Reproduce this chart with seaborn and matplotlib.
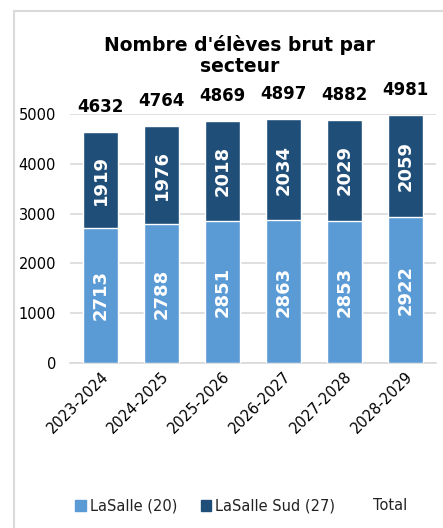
import matplotlib
matplotlib.use("Agg")
import matplotlib.pyplot as plt
from matplotlib.patches import Rectangle, Patch
from matplotlib.lines import Line2D
import pandas as pd
import seaborn as sns

# ─── Data ─────────────────────────────────────────────────────────────────────
years      = ["2023-2024", "2024-2025", "2025-2026", "2026-2027", "2027-2028", "2028-2029"]
lasalle    = [2713, 2788, 2851, 2863, 2853, 2922]
lasalle_sud = [1919, 1976, 2018, 2034, 2029, 2059]
totals     = [4632, 4764, 4869, 4897, 4882, 4981]

LIGHT = "#5B9BD5"
DARK  = "#1F4E79"

sns.set_style("white")
plt.rcParams["font.family"] = ["DejaVu Sans"]
plt.rcParams["text.color"] = "black"

df = pd.DataFrame({"annee": years, "LaSalle": lasalle, "Sud": lasalle_sud, "Total": totals})

fig = plt.figure(figsize=(4.43, 5.28), dpi=100)
ax = fig.add_axes([70 / 443, 1 - 363 / 528, 366 / 443, 249 / 528])

# full height in dark (top segment), bottom segment drawn over it
sns.barplot(data=df, x="annee", y="Total", color=DARK, width=0.57, ax=ax,
            saturation=1, zorder=2)
sns.barplot(data=df, x="annee", y="LaSalle", color=LIGHT, width=0.57, ax=ax,
            saturation=1, zorder=3)

for i, (a, b, t) in enumerate(zip(lasalle, lasalle_sud, totals)):
    ax.text(i, a / 2, str(a), rotation=90, ha="center", va="center",
            color="white", fontsize=13, fontweight="bold", zorder=4)
    ax.text(i, a + b / 2, str(b), rotation=90, ha="center", va="center",
            color="white", fontsize=13, fontweight="bold", zorder=4)
    ax.annotate(str(t), (i, t), xytext=(0, 18), textcoords="offset points",
                ha="center", va="center", fontsize=12, fontweight="bold",
                color="black", annotation_clip=False)

ax.set_ylim(0, 5000)
ax.set_xlim(-0.5, 5.5)
ax.set_yticks(range(0, 5001, 1000))
ax.yaxis.grid(True, color="#D9D9D9", linewidth=1.2, zorder=0)
ax.set_axisbelow(True)
for s in ["top", "right", "left"]:
    ax.spines[s].set_visible(False)
ax.spines["bottom"].set_color("#D9D9D9")
ax.spines["bottom"].set_linewidth(1.2)
ax.set_xlabel("")
ax.set_ylabel("")
ax.tick_params(axis="y", labelsize=10.5, length=0, pad=10, colors="black")
ax.tick_params(axis="x", labelsize=10.5, length=0, pad=4, colors="black")
plt.setp(ax.get_xticklabels(), rotation=45, ha="right", rotation_mode="anchor")

fig.text(0.54, 1 - 45 / 528, "Nombre d'élèves brut par", ha="center", va="center",
         fontsize=13.5, fontweight="bold", color="black")
fig.text(0.54, 1 - 67 / 528, "secteur", ha="center", va="center",
         fontsize=13.5, fontweight="bold", color="black")

handles = [Patch(color=LIGHT), Patch(color=DARK), Line2D([], [], color="none")]
fig.legend(handles, ["LaSalle (20)", "LaSalle Sud (27)", "Total"],
           loc="center", bbox_to_anchor=(0.545, 1 - 506 / 528), ncol=3,
           frameon=False, fontsize=10.5, handlelength=0.7, handleheight=0.7,
           handletextpad=0.3, columnspacing=1.6, labelcolor="#222222")

# chart area border
fig.patches.append(Rectangle((14 / 443, -0.05), 1.0, 1 - 11 / 528 + 0.05,
                             transform=fig.transFigure, fill=False,
                             edgecolor="#D9D9D9", linewidth=1.5))

fig.savefig("out.png", dpi=100)
